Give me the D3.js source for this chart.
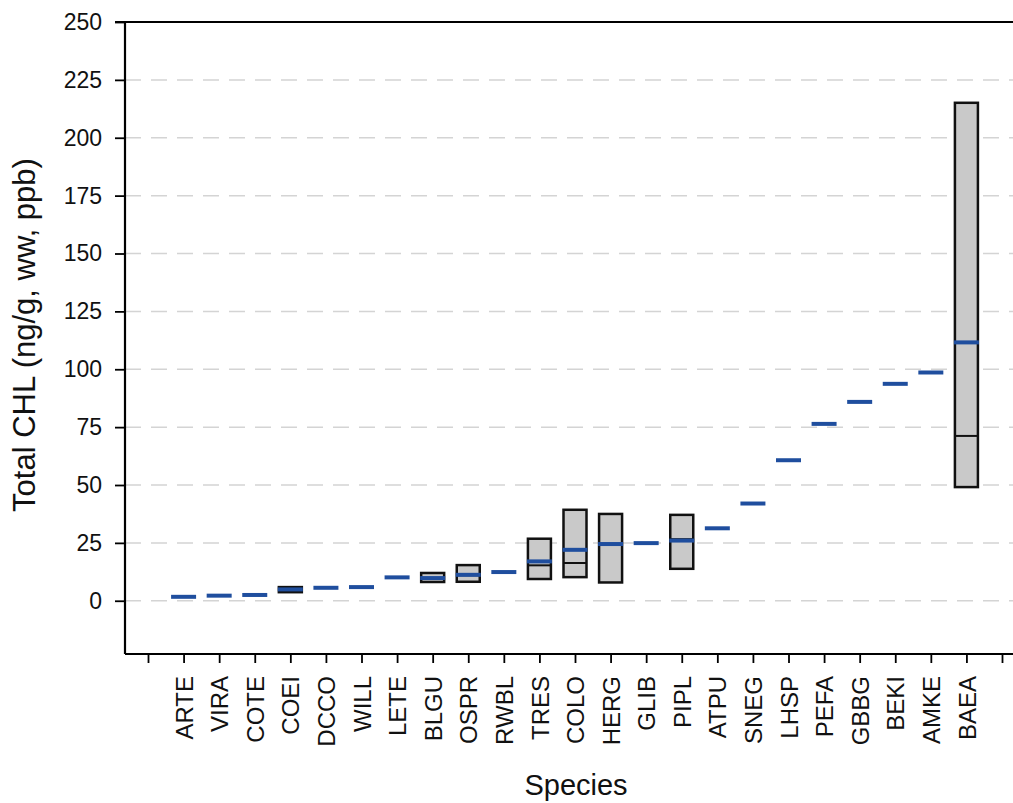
<!DOCTYPE html>
<html>
<head>
<meta charset="utf-8">
<script src="https://cdn.jsdelivr.net/npm/d3@7"></script>
<style>
  html, body { margin: 0; padding: 0; background: #fff; }
  svg { display: block; font-family: "Liberation Sans", Arial, Helvetica, sans-serif; }
</style>
</head>
<body>
<svg id="chart" width="1013" height="803"></svg>
<script>
// ---- data ----
const categories = ["ARTE","VIRA","COTE","COEI","DCCO","WILL","LETE","BLGU","OSPR","RWBL","TRES","COLO","HERG","GLIB","PIPL","ATPU","SNEG","LHSP","PEFA","GBBG","BEKI","AMKE","BAEA"];
const medians    = [1.7, 2.2, 2.5, 4.9, 5.6, 5.9, 10.1, 9.8, 11.2, 12.4, 17.0, 22.0, 24.5, 24.9, 26.0, 31.3, 42.0, 60.7, 76.4, 85.9, 93.7, 98.6, 111.6];
const boxLow     = [null, null, null, 3.7, null, null, null, 8.1, 8.2, null, 9.4, 10.2, 7.9, null, 13.8, null, null, null, null, null, null, null, 49.1];
const boxHigh    = [null, null, null, 5.9, null, null, null, 12.0, 15.4, null, 26.8, 39.3, 37.5, null, 37.1, null, null, null, null, null, null, null, 215.1];
const boxMid     = [null, null, null, 4.9, null, null, null, 9.8, 11.0, null, 15.3, 16.3, 24.5, null, 26.6, null, null, null, null, null, null, null, 71.2];
const yTicks     = [0, 25, 50, 75, 100, 125, 150, 175, 200, 225, 250];
const yTitle = "Total CHL (ng/g, ww, ppb)";
const xTitle = "Species";

(function () {
// ---- layout ----
const svg = d3.select("#chart");
const pLeft = 125, pRight = 1013, pTop = 22, pBottom = 654;
const x = d3.scaleLinear().domain([-1, 23]).range([148, 1002]);
const y = d3.scaleLinear().domain([-23, 250]).range([pBottom, pTop]);
const boxW = 23, medW = 25;
const blue = "#1f4e9e";

// gridlines
svg.append("g").selectAll("line")
  .data(yTicks.filter(t => t < 250))
  .join("line")
  .attr("x1", pLeft).attr("x2", pRight)
  .attr("y1", d => y(d)).attr("y2", d => y(d))
  .attr("stroke", "#d4d4d4").attr("stroke-width", 1.5)
  .attr("stroke-dasharray", "16,10");

// y axis
const yAxis = svg.append("g")
  .attr("transform", `translate(${pLeft},0)`)
  .call(d3.axisLeft(y).tickValues(yTicks).tickSize(10).tickPadding(13).tickFormat(d3.format("d")));
yAxis.select(".domain").remove();
yAxis.selectAll(".tick line").attr("stroke", "#000").attr("stroke-width", 1.8);
yAxis.selectAll(".tick text").attr("font-size", 23).attr("fill", "#111").attr("font-family", "Liberation Sans, Arial, sans-serif");

// x axis
const xAxis = svg.append("g")
  .attr("transform", `translate(0,${pBottom})`)
  .call(d3.axisBottom(x).tickValues(d3.range(-1, 24)).tickSize(9)
    .tickFormat(i => categories[i] || ""));
xAxis.select(".domain").remove();
xAxis.selectAll(".tick line").attr("stroke", "#000").attr("stroke-width", 1.8);
xAxis.selectAll(".tick text")
  .attr("font-size", 24).attr("fill", "#111")
  .attr("font-family", "Liberation Sans, Arial, sans-serif")
  .attr("text-anchor", "end")
  .attr("transform", "rotate(-90)")
  .attr("x", -22).attr("y", 0).attr("dy", "0.36em");

// frame lines
svg.append("line").attr("x1", pLeft).attr("x2", pLeft).attr("y1", pTop).attr("y2", pBottom)
  .attr("stroke", "#000").attr("stroke-width", 2.2);
svg.append("line").attr("x1", 115).attr("x2", pRight).attr("y1", pTop).attr("y2", pTop)
  .attr("stroke", "#000").attr("stroke-width", 2.2);
svg.append("line").attr("x1", pLeft).attr("x2", pRight).attr("y1", pBottom).attr("y2", pBottom)
  .attr("stroke", "#000").attr("stroke-width", 2.2);

// boxes
const idx = d3.range(categories.length);
const boxed = idx.filter(i => boxLow[i] !== null);
svg.append("g").selectAll("rect")
  .data(boxed).join("rect")
  .attr("x", i => x(i) - boxW / 2)
  .attr("width", boxW)
  .attr("y", i => y(boxHigh[i]))
  .attr("height", i => y(boxLow[i]) - y(boxHigh[i]))
  .attr("fill", "#c9c9c9").attr("stroke", "#111").attr("stroke-width", 2.5);
svg.append("g").selectAll("line")
  .data(boxed).join("line")
  .attr("x1", i => x(i) - boxW / 2).attr("x2", i => x(i) + boxW / 2)
  .attr("y1", i => y(boxMid[i])).attr("y2", i => y(boxMid[i]))
  .attr("stroke", "#111").attr("stroke-width", 2);

// medians
svg.append("g").selectAll("line")
  .data(idx).join("line")
  .attr("x1", i => x(i) - medW / 2).attr("x2", i => x(i) + medW / 2)
  .attr("y1", i => y(medians[i])).attr("y2", i => y(medians[i]))
  .attr("stroke", blue).attr("stroke-width", 4);

// titles
svg.append("text")
  .attr("transform", `translate(35,335) rotate(-90)`)
  .attr("text-anchor", "middle")
  .attr("font-size", 31).attr("fill", "#111")
  .text(yTitle);
svg.append("text")
  .attr("x", 576).attr("y", 795)
  .attr("text-anchor", "middle")
  .attr("font-size", 29).attr("fill", "#111")
  .text(xTitle);
})();
</script>
</body>
</html>
